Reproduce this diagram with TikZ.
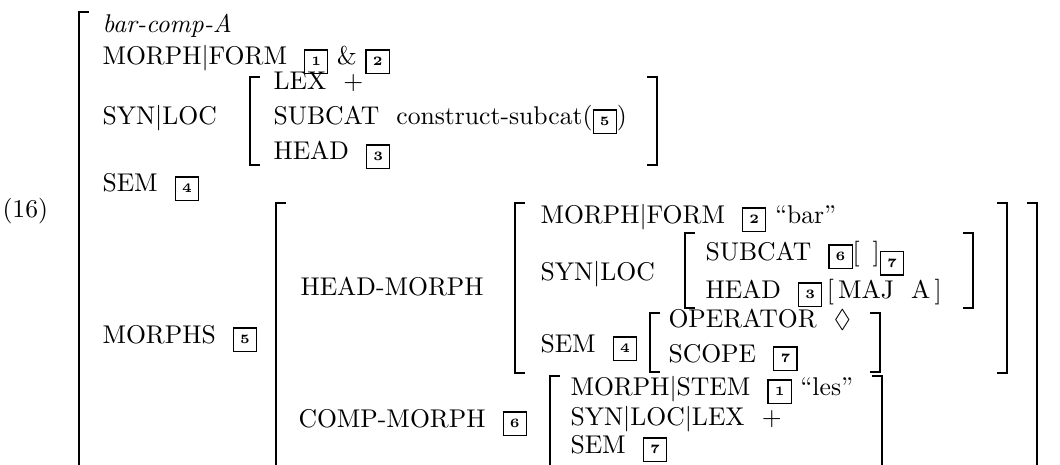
\documentclass[tikz,border=0pt]{standalone}
\usepackage{amssymb}
\usetikzlibrary{positioning}
\tikzstyle{row} = [anchor=base west,inner sep=0pt]
\tikzstyle{brk} = [line width=0.6pt,line cap=rect]
\newcommand{\tg}[1]{\raisebox{-1.2pt}{\fboxsep=1.8pt\fboxrule=0.45pt\fbox{\makebox[5pt]{\rule{0pt}{5pt}\raisebox{0.9pt}{\tiny\bfseries #1}}}}}

\begin{document}
\begin{tikzpicture}[x=0.39pt,y=-0.39pt]
  \useasboundingbox (0,0) rectangle (1060,465);
  \node [row] (num) at (2,218) {(16)};

  % outer matrix
  \node [row] (type) at (102,33) {\textit{bar-comp-A}};
  \node [row] (mform) at (102,65) {MORPH$|$FORM~~\tg{1}~\&~\tg{2}};
  \node [row] (synloc) at (102,125) {SYN$|$LOC};
  \node [row] (lex) at (273,90) {LEX~~$+$};
  \node [row] (subcat) at (273,125) {SUBCAT~~construct-subcat(\tg{5})};
  \node [row] (head) at (273,160) {HEAD~~\tg{3}};
  \node [row] (sem) at (102,192) {SEM~~\tg{4}};
  \node [row] (morphs) at (102,343) {MORPHS~~\tg{5}};

  % morphs value
  \node [row] (hmorph) at (300,295) {HEAD-MORPH};
  \node [row] (cmorph) at (298,427) {COMP-MORPH~~\tg{6}};

  \node [row] (hform) at (540,223) {MORPH$|$FORM~~\tg{2}~``bar''};
  \node [row] (hsynloc) at (540,280) {SYN$|$LOC};
  \node [row] (hsubcat) at (705,260) {SUBCAT~~\tg{6}[\ \,]$_{\tg{7}}$};
  \node [row] (hhead) at (705,298) {HEAD~~\tg{3}\,[\,MAJ~~A\,]};
  \node [row] (hsem) at (540,352) {SEM~~\tg{4}};
  \node [row] (oper) at (668,327) {OPERATOR~~$\Diamond$};
  \node [row] (scope) at (668,362) {SCOPE~~\tg{7}};

  \node [row] (cstem) at (570,395) {MORPH$|$STEM~~\tg{1}~``les''};
  \node [row] (clex) at (570,425) {SYN$|$LOC$|$LEX~~$+$};
  \node [row] (csem) at (570,453) {SEM~~\tg{7}};

  % brackets
  \draw [brk] (88,12) -- (79,12) -- (79,472) -- (88,472);
  \foreach \l/\r/\t/\b in {250/657/77/165, 276/1037/203/472, 515/1007/203/373,
      685/973/233/308, 650/880/313/372, 550/882/376/472} {
    \draw [brk] (\l+9,\t) -- (\l,\t) -- (\l,\b) -- (\l+9,\b);
    \draw [brk] (\r-9,\t) -- (\r,\t) -- (\r,\b) -- (\r-9,\b);
  }
\end{tikzpicture}
\end{document}
